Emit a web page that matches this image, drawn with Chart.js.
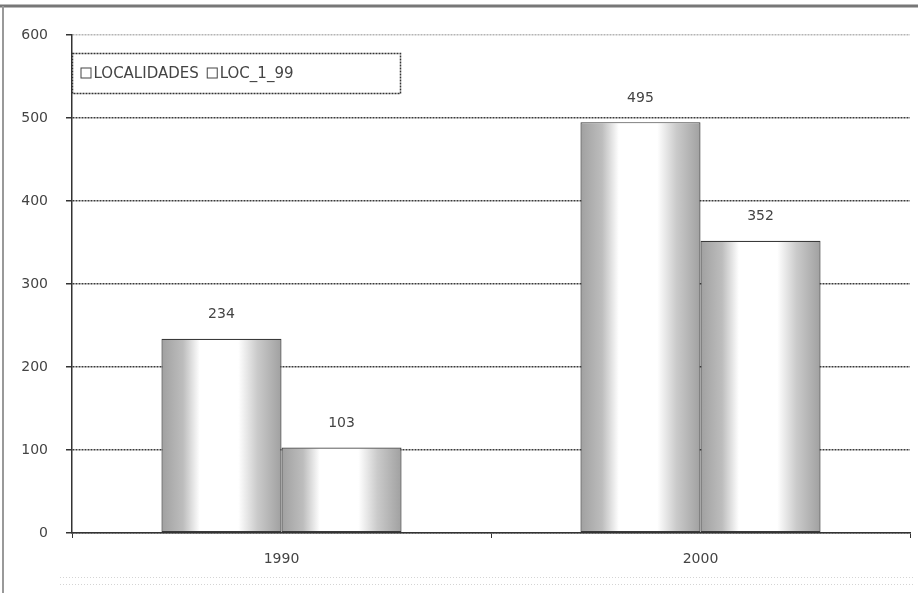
<!DOCTYPE html>
<html>
<head>
<meta charset="utf-8">
<script src="https://cdn.jsdelivr.net/npm/chart.js@4.4.1/dist/chart.umd.min.js"></script>
<style>
  html, body { margin: 0; padding: 0; background: #fff; }
  #wrap { width: 918px; height: 593px; }
</style>
</head>
<body>
<div id="wrap"><canvas id="myChart"></canvas></div>
<script>
// data
const years = ['1990', '2000'];
const localidades = [234, 495];
const loc199 = [103, 352];
const yMin = 0, yMax = 600, yStep = 100;

const FONT = '"DejaVu Sans", Verdana, sans-serif';
const INK = '#444';

// shaded excel-style bars + labels + legend box + frame
const excelLook = {
  id: 'excelLook',
  beforeDatasetsDraw(chart) {
    const ctx = chart.ctx;
    chart.data.datasets.forEach((ds, di) => {
      chart.getDatasetMeta(di).data.forEach(el => {
        const l = el.x - el.width / 2, r = el.x + el.width / 2;
        const g = ctx.createLinearGradient(l, 0, r, 0);
        g.addColorStop(0, '#a0a0a0');
        g.addColorStop(0.18, '#bdbdbd');
        g.addColorStop(0.32, '#ffffff');
        g.addColorStop(0.64, '#ffffff');
        g.addColorStop(0.8, '#cacaca');
        g.addColorStop(1, '#a0a0a0');
        el.options = Object.assign({}, el.options, { backgroundColor: g });
      });
    });
  },
  afterDatasetsDraw(chart) {
    const ctx = chart.ctx;
    ctx.save();
    ctx.font = '14px ' + FONT;
    ctx.fillStyle = INK;
    ctx.textAlign = 'center';
    ctx.textBaseline = 'bottom';
    chart.data.datasets.forEach((ds, di) => {
      chart.getDatasetMeta(di).data.forEach((el, i) => {
        ctx.fillText(String(ds.data[i]), el.x, el.y - 17);
      });
    });
    ctx.restore();
  },
  afterDraw(chart) {
    const ctx = chart.ctx;
    const a = chart.chartArea;
    ctx.save();
    // legend
    const bx = a.left + 0.5, by = 53.5, bw = 328, bh = 40;
    ctx.fillStyle = '#fff';
    ctx.fillRect(bx, by, bw, bh);
    ctx.strokeStyle = '#333';
    ctx.lineWidth = 1.5;
    ctx.setLineDash([2, 1]);
    ctx.strokeRect(bx, by, bw, bh);
    ctx.setLineDash([]);
    ctx.font = '15px ' + FONT;
    ctx.textBaseline = 'middle';
    ctx.textAlign = 'left';
    let x = bx + 8;
    const cy = by + bh / 2;
    chart.data.datasets.forEach(ds => {
      ctx.strokeStyle = '#444';
      ctx.lineWidth = 1;
      ctx.strokeRect(x + 0.5, cy - 5.5, 10, 10);
      x += 13;
      ctx.fillStyle = INK;
      ctx.fillText(ds.label, x, cy + 1);
      x += ctx.measureText(ds.label).width + 8;
    });
    // outer frame of the scanned sheet
    ctx.strokeStyle = '#777';
    ctx.lineWidth = 3;
    ctx.beginPath();
    ctx.moveTo(0, 6); ctx.lineTo(918, 6);
    ctx.stroke();
    ctx.strokeStyle = '#999';
    ctx.lineWidth = 2;
    ctx.beginPath();
    ctx.moveTo(3, 6); ctx.lineTo(3, 593);
    ctx.stroke();
    // faint dotted band near the bottom
    ctx.strokeStyle = '#d4d4d4';
    ctx.lineWidth = 1;
    ctx.setLineDash([1, 2]);
    [577.5, 584.5].forEach(yy => {
      ctx.beginPath(); ctx.moveTo(60, yy); ctx.lineTo(915, yy); ctx.stroke();
    });
    ctx.restore();
  }
};

function init() {
  const ctx = document.getElementById('myChart');
  const barStyle = {
    borderColor: '#3a3a3a',
    borderWidth: 1.2,
    borderSkipped: false,
    backgroundColor: '#ddd'
  };
  new Chart(ctx, {
    type: 'bar',
    data: {
      labels: years,
      datasets: [
        Object.assign({ label: 'LOCALIDADES', data: localidades }, barStyle),
        Object.assign({ label: 'LOC_1_99', data: loc199 }, barStyle)
      ]
    },
    options: {
      responsive: true,
      maintainAspectRatio: false,
      animation: false,
      events: [],
      categoryPercentage: 0.573,
      barPercentage: 1,
      layout: { padding: { top: 35, right: 8, bottom: 12, left: 0 } },
      plugins: {
        legend: { display: false },
        tooltip: { enabled: false },
        title: { display: false }
      },
      scales: {
        x: {
          offset: true,
          afterFit(axis) { axis.height = 48; },
          grid: {
            offset: true,
            drawOnChartArea: false,
            drawTicks: true,
            tickLength: 5,
            tickColor: '#333'
          },
          border: { display: true, color: '#333', width: 1.5, dash: [2, 1] },
          ticks: {
            color: INK,
            padding: 13,
            font: { family: FONT, size: 14 }
          }
        },
        y: {
          min: yMin,
          max: yMax,
          afterFit(axis) { axis.width = 72; },
          ticks: {
            stepSize: yStep,
            color: INK,
            padding: 18,
            font: { family: FONT, size: 14 }
          },
          grid: {
            color: c => (c.tick && c.tick.value === yMax) ? '#b5b5b5' : '#3a3a3a',
            lineWidth: 1.5,
            tickLength: 6,
            tickColor: '#333'
          },
          border: { display: true, color: '#333', width: 1.5, dash: [2, 1] }
        }
      }
    },
    plugins: [excelLook]
  });
}

document.addEventListener('DOMContentLoaded', init, false);
</script>
</body>
</html>
